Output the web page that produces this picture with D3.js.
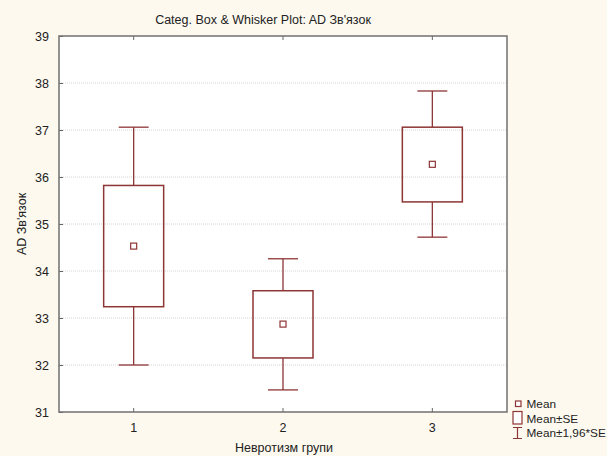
<!DOCTYPE html>
<html>
<head>
<meta charset="utf-8">
<script src="https://cdn.jsdelivr.net/npm/d3@7"></script>
<style>
  body { margin: 0; background: #fdf9ef; }
  svg { display: block; font-family: "Liberation Sans", Arial, sans-serif; }
</style>
</head>
<body>
<div id="chart"></div>
<script>
// data
const groups  = ["1", "2", "3"];
const means   = [34.53, 32.87, 36.27];
const seLow   = [33.24, 32.15, 35.47];
const seHigh  = [35.82, 33.58, 37.06];
const ciLow   = [32.00, 31.47, 34.72];
const ciHigh  = [37.06, 34.26, 37.83];
const yTicks  = [31, 32, 33, 34, 35, 36, 37, 38, 39];

const W = 607, H = 456;
const plot = {left: 59, right: 507, top: 36, bottom: 412};
const red = "#8e3535";
const fs = "12.5px";

const svg = d3.select("#chart").append("svg")
    .attr("width", W).attr("height", H);

svg.append("rect").attr("width", W).attr("height", H).attr("fill", "#fdf9ef");

const x = d3.scaleBand().domain(groups).range([plot.left, plot.right]);
const y = d3.scaleLinear().domain([31, 39]).range([plot.bottom, plot.top]);

// plot area
svg.append("rect")
    .attr("x", plot.left).attr("y", plot.top)
    .attr("width", plot.right - plot.left).attr("height", plot.bottom - plot.top)
    .attr("fill", "#fff");

// grid
svg.append("g").selectAll("line")
    .data(yTicks.filter(d => d > 31 && d < 39))
    .join("line")
    .attr("x1", plot.left).attr("x2", plot.right)
    .attr("y1", d => y(d)).attr("y2", d => y(d))
    .attr("stroke", "#d4d4d4").attr("stroke-dasharray", "1,1");

// axes (ticks inward)
const yAxis = svg.append("g")
    .attr("transform", `translate(${plot.left},0)`)
    .call(d3.axisLeft(y).tickValues(yTicks).tickSize(-4).tickPadding(10).tickFormat(d3.format("d")));
const xAxis = svg.append("g")
    .attr("transform", `translate(0,${plot.bottom})`)
    .call(d3.axisBottom(x).tickSize(-4).tickPadding(11));
const xTop = svg.append("g")
    .attr("transform", `translate(0,${plot.top})`)
    .call(d3.axisTop(x).tickSize(-4).tickFormat(""));
[yAxis, xAxis, xTop].forEach(g => {
  g.select(".domain").remove();
  g.selectAll(".tick line").attr("stroke", "#666");
  g.selectAll("text").attr("fill", "#222").style("font-size", fs)
      .style("font-family", "'Liberation Sans', Arial, sans-serif");
});

// frame
svg.append("rect")
    .attr("x", plot.left).attr("y", plot.top)
    .attr("width", plot.right - plot.left).attr("height", plot.bottom - plot.top)
    .attr("fill", "none").attr("stroke", "#707070").attr("stroke-width", 1.5);

// boxes and whiskers
const cx = i => x(groups[i]) + x.bandwidth() / 2;
const g = svg.append("g");
groups.forEach((grp, i) => {
  const c = cx(i);
  g.append("line").attr("x1", c).attr("x2", c)
      .attr("y1", y(ciHigh[i])).attr("y2", y(seHigh[i]))
      .attr("stroke", red).attr("stroke-width", 1.3);
  g.append("line").attr("x1", c).attr("x2", c)
      .attr("y1", y(seLow[i])).attr("y2", y(ciLow[i]))
      .attr("stroke", red).attr("stroke-width", 1.3);
  [ciHigh[i], ciLow[i]].forEach(v => {
    g.append("line").attr("x1", c - 15).attr("x2", c + 15)
        .attr("y1", y(v)).attr("y2", y(v))
        .attr("stroke", red).attr("stroke-width", 1.3);
  });
  g.append("rect")
      .attr("x", c - 30).attr("y", y(seHigh[i]))
      .attr("width", 60).attr("height", y(seLow[i]) - y(seHigh[i]))
      .attr("fill", "none").attr("stroke", red).attr("stroke-width", 1.5);
  g.append("rect")
      .attr("x", c - 3).attr("y", y(means[i]) - 3)
      .attr("width", 6).attr("height", 6)
      .attr("fill", "#fff").attr("stroke", red).attr("stroke-width", 1.2);
});

// titles
svg.append("text").attr("x", 263).attr("y", 23.5).attr("text-anchor", "middle")
    .attr("fill", "#222").style("font-size", fs)
    .text("Categ. Box & Whisker Plot: AD Зв'язок");
svg.append("text").attr("x", 284).attr("y", 452)
    .attr("text-anchor", "middle").attr("fill", "#222").style("font-size", fs)
    .text("Невротизм групи");
svg.append("text")
    .attr("transform", `translate(26,${(plot.top + plot.bottom) / 2}) rotate(-90)`)
    .attr("text-anchor", "middle").attr("fill", "#222").style("font-size", fs)
    .text("AD Зв'язок");

// legend (slightly smaller so the last entry fits inside the page)
const lfs = "11.8px";
const lg = svg.append("g");
lg.append("rect").attr("x", 515.5).attr("y", 401).attr("width", 5.5).attr("height", 5.5)
    .attr("fill", "#fff").attr("stroke", red).attr("stroke-width", 1.2);
lg.append("text").attr("x", 526.5).attr("y", 408).attr("fill", "#222").style("font-size", lfs).text("Mean");
lg.append("rect").attr("x", 513).attr("y", 411.5).attr("width", 9).attr("height", 12.5)
    .attr("fill", "#fff").attr("stroke", red).attr("stroke-width", 1.2);
lg.append("text").attr("x", 526.5).attr("y", 423).attr("fill", "#222").style("font-size", lfs).text("Mean±SE");
lg.append("path").attr("d", "M513,427.5H522M517.5,427.5V438.5M513,438.5H522")
    .attr("fill", "none").attr("stroke", red).attr("stroke-width", 1.2);
lg.append("text").attr("x", 526.5).attr("y", 437).attr("fill", "#222").style("font-size", lfs).text("Mean±1,96*SE");
</script>
</body>
</html>
